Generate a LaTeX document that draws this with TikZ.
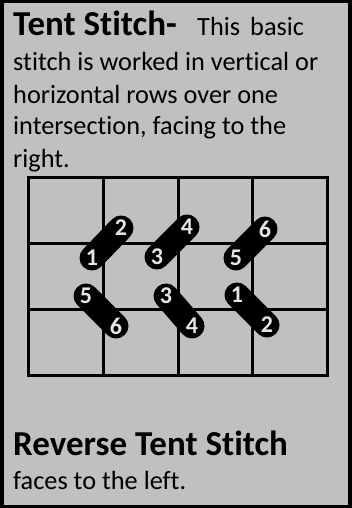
\documentclass[tikz,border=0pt]{standalone}
\usepackage{fontspec}
\setmainfont{Carlito}[Ligatures=NoCommon]
\begin{document}
\begin{tikzpicture}[x=1pt,y=-1pt,
  txt/.style={anchor=base west,inner sep=0pt,font=\fontsize{26.3}{30}\selectfont},
  ttl/.style={anchor=base west,inner sep=0pt,font=\bfseries\fontsize{35}{38}\selectfont},
  gridline/.style={line width=3pt},
  stitch/.style={line width=25pt,line cap=round,black},
  num/.style={inner sep=0pt,text=gray!20,font=\bfseries\fontsize{24}{24}\selectfont}]
\useasboundingbox (0,0) rectangle (352,508);
\fill[black] (0,0) rectangle (352,508);
\fill[fill={rgb,255:red,192;green,192;blue,192}] (4,3) rectangle (348,505);
% text
\node[ttl] (t1) at (13,36) {Tent Stitch-};
\node[txt] (t1b) at (197,36) {This};
\node[txt] (t1c) at (250,36) {basic};
\node[txt] (t2) at (13,71) {stitch is worked in vertical or};
\node[txt] (t3) at (13,103) {horizontal rows over one};
\node[txt] (t4) at (13,135) {intersection, facing to the};
\node[txt] (t5) at (13,167) {right.};
% grid
\draw[gridline] (28,177) rectangle (327,375);
\foreach \x in {103,178,252} \draw[gridline] (\x,177) -- (\x,375);
\foreach \y in {243,309} \draw[gridline] (28,\y) -- (327,\y);
% stitches
\coordinate (a1) at (92,258); \coordinate (a2) at (121,228);
\coordinate (b3) at (157,257); \coordinate (b4) at (187,227);
\coordinate (c5) at (236,258); \coordinate (c6) at (265,229);
\coordinate (d5) at (86,296); \coordinate (d6) at (116,326);
\coordinate (e3) at (166,296); \coordinate (e4) at (192,326);
\coordinate (f1) at (237,295); \coordinate (f2) at (267,325);
\foreach \p/\q in {a1/a2,b3/b4,c5/c6,d5/d6,e3/e4,f1/f2} \draw[stitch] (\p) -- (\q);
\node[num] (na1) at (a1) {1}; \node[num] (na2) at (a2) {2};
\node[num] (nb3) at (b3) {3}; \node[num] (nb4) at (b4) {4};
\node[num] (nc5) at (c5) {5}; \node[num] (nc6) at (c6) {6};
\node[num] (nd5) at (d5) {5}; \node[num] (nd6) at (d6) {6};
\node[num] (ne3) at (e3) {3}; \node[num] (ne4) at (e4) {4};
\node[num] (nf1) at (f1) {1}; \node[num] (nf2) at (f2) {2};
% bottom text
\node[ttl] (r1) at (13,455) {Reverse Tent Stitch};
\node[txt] (r2) at (13,489) {faces to the left.};
\end{tikzpicture}
\end{document}
